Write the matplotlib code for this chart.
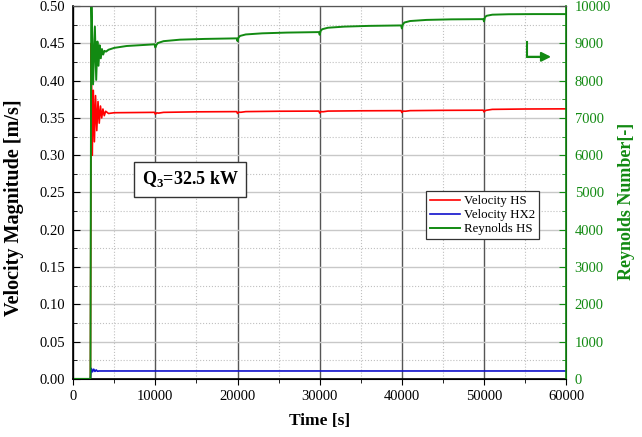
import matplotlib
matplotlib.use("Agg")
import matplotlib.pyplot as plt
from matplotlib.ticker import MultipleLocator, FormatStrFormatter

plt.rcParams["font.family"] = ["Liberation Serif", "DejaVu Serif"]
plt.rcParams["mathtext.fontset"] = "custom"
plt.rcParams["mathtext.rm"] = "Liberation Serif"
plt.rcParams["mathtext.bf"] = "Liberation Serif:bold"

# ===== DATA =====
t_vhs = [0, 2100, 2200, 2320, 2450, 2580, 2720, 2870, 3020, 3170, 3320,
         3470, 3620, 3780, 3950, 4300, 5000, 9900, 10000, 10150, 10400, 11000,
         15000, 19900, 20000, 20150, 20400, 21000, 25000, 29900, 30000, 30150,
         30400, 31000, 35000, 39900, 40000, 40150, 40400, 41000, 45000, 49900,
         50000, 50150, 50400, 51000, 55000, 60000]
v_hs = [0, 0, 0.45, 0.300, 0.387, 0.318, 0.380, 0.333, 0.372, 0.343, 0.366,
        0.350, 0.362, 0.353, 0.359, 0.356, 0.357, 0.3575, 0.3550, 0.3568,
        0.3565, 0.3575, 0.3582, 0.3585, 0.3560, 0.3578, 0.3576, 0.3585,
        0.3590, 0.3592, 0.3565, 0.3585, 0.3583, 0.3592, 0.3596, 0.3598,
        0.3572, 0.3592, 0.3590, 0.3598, 0.3602, 0.3604, 0.3580, 0.3600,
        0.3605, 0.3615, 0.3620, 0.3622]

t_vhx2 = [0, 2100, 2200, 2350, 2500, 2650, 2800, 2950, 3150, 60000]
v_hx2 = [0, 0, 0.014, 0.0095, 0.0130, 0.0100, 0.0120, 0.0102, 0.0106, 0.0106]

t_re = [0, 2100, 2200, 2420, 2640, 2800, 2950, 3080, 3220, 3360, 3500, 3650,
        3800, 4000, 4300, 5000, 6500, 8000, 9900, 10000, 10100, 10300, 11000,
        13000, 16000, 19900, 20000, 20100, 20300, 21000, 23000, 26000, 29900,
        30000, 30100, 30300, 31000, 33000, 36000, 39900, 40000, 40100, 40300,
        41000, 43000, 46000, 49900, 50000, 50100, 50300, 51000, 53000, 56000,
        60000]
re_hs = [0, 0, 10600, 7900, 9450, 8020, 9050, 8400, 8950, 8600, 8850, 8700,
         8800, 8780, 8830, 8880, 8930, 8950, 8975, 8890, 8950, 9010, 9060,
         9100, 9120, 9135, 9060, 9150, 9200, 9240, 9270, 9290, 9303, 9230,
         9330, 9380, 9420, 9450, 9470, 9482, 9400, 9500, 9560, 9600, 9630,
         9645, 9651, 9590, 9700, 9740, 9770, 9782, 9786, 9786]

red = "#ff0000"
blue = "#1010cc"
green = "#128a12"

fig = plt.figure(figsize=(6.42, 4.37), dpi=100)
ax1 = fig.add_axes([0.114, 0.133, 0.768, 0.853])
ax2 = ax1.twinx()

l1, = ax1.plot(t_vhs, v_hs, color=red, lw=1.2, label="Velocity HS")
l2, = ax1.plot(t_vhx2, v_hx2, color=blue, lw=1.2, label="Velocity HX2")
l3, = ax2.plot(t_re, re_hs, color=green, lw=1.4, label="Reynolds HS")

ax1.set_xlim(0, 60000)
ax1.set_ylim(0, 0.5)
ax2.set_ylim(0, 10000)

ax1.xaxis.set_major_locator(MultipleLocator(10000))
ax1.xaxis.set_minor_locator(MultipleLocator(5000))
ax1.yaxis.set_major_locator(MultipleLocator(0.05))
ax1.yaxis.set_minor_locator(MultipleLocator(0.025))
ax1.yaxis.set_major_formatter(FormatStrFormatter("%.2f"))
ax2.yaxis.set_major_locator(MultipleLocator(1000))
ax2.yaxis.set_minor_locator(MultipleLocator(500))

ax1.grid(True, axis="x", which="major", color="#555555", lw=1.0)
ax1.grid(True, axis="y", which="major", color="#c8c8c8", lw=1.0)
ax1.grid(True, which="minor", color="#c0c0c0", lw=0.8, ls=":")
ax1.set_axisbelow(True)

ax1.tick_params(axis="x", which="both", direction="out", labelsize=10.5, pad=4)
ax1.tick_params(axis="x", which="major", length=4)
ax1.tick_params(axis="x", which="minor", length=3)
ax1.tick_params(axis="y", which="both", direction="in", labelsize=10.5, pad=6)
ax1.tick_params(axis="y", which="major", length=5)
ax1.tick_params(axis="y", which="minor", length=3)
ax2.tick_params(axis="y", which="both", direction="in", labelsize=10.5, pad=6,
                colors=green)
ax2.tick_params(axis="y", which="major", length=5)
ax2.tick_params(axis="y", which="minor", length=3)
ax2.spines["right"].set_color(green)
ax2.spines["right"].set_linewidth(1.2)
for s in ["left", "bottom"]:
    ax1.spines[s].set_linewidth(1.2)
ax2.spines["top"].set_color("#555555")

ax1.set_xlabel("Time [s]", fontsize=12.5, fontweight="bold", labelpad=7)
ax1.set_ylabel("Velocity Magnitude [m/s]", fontsize=14.5, fontweight="bold")
ax1.yaxis.set_label_coords(-0.099, 0.458)
ax2.set_ylabel("Reynolds Number[-]", fontsize=13, fontweight="bold",
               color=green)
ax2.yaxis.set_label_coords(1.104, 0.475)

# Q3 box
ax2.text(0.237, 0.535, r"Q$_{\mathbf{3}}$=32.5 kW", transform=ax2.transAxes,
         fontsize=13, fontweight="bold", ha="center", va="center",
         bbox=dict(boxstyle="square,pad=0.4", fc="white", ec="#333333", lw=1))

# arrow pointing to the right axis
ax2.plot([55200, 55200, 57000], [9043, 8640, 8640], color=green, lw=1.5)
ax2.annotate("", xy=(58150, 8640), xytext=(55200, 8640),
             arrowprops=dict(arrowstyle="-|>", color=green, lw=1.5,
                             mutation_scale=14, shrinkA=0, shrinkB=0))

leg = ax2.legend(handles=[l1, l2, l3], loc="upper left",
                 bbox_to_anchor=(0.716, 0.503), borderaxespad=0,
                 fontsize=9.3, frameon=True, fancybox=False,
                 edgecolor="#333333", framealpha=1, handlelength=2.3,
                 borderpad=0.3, labelspacing=0.15, handletextpad=0.3)
leg.get_frame().set_linewidth(0.9)

fig.savefig("out.png", dpi=100)
